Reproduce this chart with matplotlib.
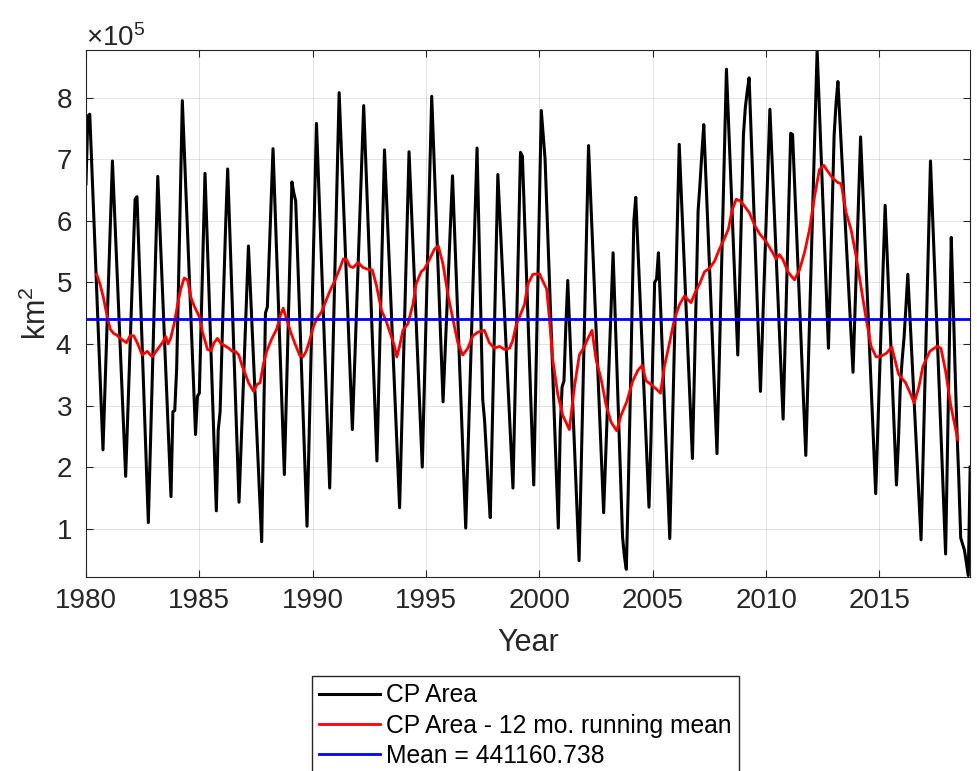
"""
CP area time series with 12-month running mean and long-term mean.
"""
import numpy as np
import matplotlib
matplotlib.use('Agg')
import matplotlib.pyplot as plt
from matplotlib.ticker import ScalarFormatter, MultipleLocator

plt.rcParams.update({
    'font.family': ['Liberation Sans', 'DejaVu Sans'],
    'mathtext.default': 'regular',
})

# ── Data ──────────────────────────────────────────────────────────────────────
# monthly CP area, Jan 1980 .. Jan 2019, in units of 1e5 km^2
cp_1980s = [
    6.60, 7.70, 7.73, 6.95, 6.17, 5.39, 4.62, 3.84, 3.06, 2.28, 3.22, 4.15,
    5.09, 6.03, 6.97, 6.24, 5.51, 4.78, 4.05, 3.31, 2.58, 1.85, 2.75, 3.65,
    4.55, 5.45, 6.35, 6.39, 5.51, 4.63, 3.74, 2.86, 1.98, 1.10, 2.22, 3.35,
    4.47, 5.60, 6.72, 5.98, 5.24, 4.49, 3.75, 3.01, 2.26, 1.52, 2.90, 2.92,
    3.60, 5.00, 6.50, 7.95, 7.18, 6.40, 5.63, 4.85, 4.08, 3.31, 2.53, 3.15,
    3.20, 4.40, 5.60, 6.77, 5.86, 4.94, 4.03, 3.12, 2.20, 1.29, 2.60, 2.90,
    4.00, 5.00, 6.00, 6.84, 5.94, 5.04, 4.14, 3.23, 2.33, 1.43, 2.26, 3.10,
    3.93, 4.76, 5.59, 4.90, 4.22, 3.53, 2.85, 2.16, 1.48, 0.79, 2.70, 4.50,
    4.60, 5.45, 6.30, 7.17, 6.29, 5.41, 4.52, 3.64, 2.76, 1.88, 3.07, 4.25,
    5.44, 6.63, 6.45, 6.32, 5.44, 4.56, 3.68, 2.80, 1.92, 1.04, 2.35, 3.66,
]
cp_1990s = [
    4.97, 6.27, 7.58, 6.73, 5.89, 5.04, 4.20, 3.35, 2.51, 1.66, 2.94, 4.23,
    5.51, 6.80, 8.08, 7.30, 6.52, 5.74, 4.95, 4.17, 3.39, 2.61, 3.49, 4.36,
    5.24, 6.12, 7.00, 7.87, 7.05, 6.22, 5.40, 4.57, 3.75, 2.93, 2.10, 3.36,
    4.63, 5.89, 7.15, 6.42, 5.70, 4.97, 4.25, 3.52, 2.79, 2.07, 1.34, 2.50,
    3.65, 4.81, 5.96, 7.12, 6.39, 5.66, 4.93, 4.20, 3.46, 2.73, 2.00, 3.20,
    4.41, 5.61, 6.82, 8.02, 7.19, 6.37, 5.54, 4.71, 3.89, 3.06, 3.79, 4.53,
    5.26, 6.00, 6.73, 5.91, 5.10, 4.28, 3.46, 2.64, 1.83, 1.01, 2.04, 3.07,
    4.10, 5.12, 6.15, 7.18, 5.80, 4.40, 3.10, 2.75, 2.20, 1.65, 1.18, 2.57,
    3.96, 5.36, 6.75, 6.11, 5.48, 4.84, 4.20, 3.57, 2.93, 2.29, 1.66, 3.02,
    4.39, 5.75, 7.11, 7.05, 6.16, 5.27, 4.38, 3.49, 2.60, 1.71, 3.23, 4.75,
]
cp_2000s = [
    6.27, 7.79, 7.40, 7.00, 6.14, 5.29, 4.43, 3.58, 2.72, 1.87, 1.01, 2.60,
    3.30, 3.40, 4.30, 5.03, 4.27, 3.51, 2.76, 2.00, 1.24, 0.48, 1.83, 3.18,
    4.52, 5.87, 7.22, 6.48, 5.73, 4.99, 4.24, 3.50, 2.75, 2.01, 1.26, 2.10,
    2.95, 3.79, 4.64, 5.48, 4.56, 3.64, 2.71, 1.79, 0.87, 0.55, 0.34, 1.60,
    3.00, 4.50, 6.00, 6.38, 5.66, 4.94, 4.22, 3.50, 2.79, 2.07, 1.35, 2.40,
    3.80, 5.00, 5.05, 5.48, 4.71, 3.93, 3.16, 2.39, 1.61, 0.84, 2.12, 3.40,
    4.68, 5.96, 7.24, 6.51, 5.78, 5.05, 4.32, 3.60, 2.87, 2.14, 3.50, 4.85,
    6.16, 6.60, 7.10, 7.56, 6.80, 6.03, 5.27, 4.51, 3.74, 2.98, 2.22, 3.47,
    4.72, 5.96, 7.21, 8.46, 7.69, 6.91, 6.14, 5.37, 4.59, 3.82, 5.00, 6.20,
    7.40, 7.84, 8.10, 8.32, 7.47, 6.62, 5.78, 4.93, 4.08, 3.23, 4.15, 5.06,
]
cp_2010s = [
    5.98, 6.90, 7.81, 7.09, 6.37, 5.65, 4.93, 4.22, 3.50, 2.78, 3.94, 5.10,
    6.26, 7.42, 7.40, 6.66, 5.91, 5.17, 4.42, 3.68, 2.93, 2.19, 3.29, 4.38,
    5.48, 6.58, 7.67, 8.77, 7.96, 7.16, 6.35, 5.54, 4.74, 3.93, 5.08, 6.24,
    7.39, 7.90, 8.26, 7.67, 7.08, 6.49, 5.90, 5.31, 4.72, 4.13, 3.54, 4.50,
    5.45, 6.41, 7.36, 6.64, 5.91, 5.19, 4.47, 3.74, 3.02, 2.29, 1.57, 2.51,
    3.44, 4.38, 5.32, 6.25, 5.49, 4.74, 3.98, 3.22, 2.47, 1.71, 2.40, 3.30,
    3.74, 4.10, 4.60, 5.13, 4.51, 3.90, 3.28, 2.67, 2.05, 1.44, 0.82, 2.05,
    3.28, 4.51, 5.74, 6.97, 6.17, 5.38, 4.58, 3.78, 2.98, 2.19, 1.39, 0.59,
    2.30, 4.02, 5.73, 4.70, 3.60, 2.60, 1.80, 0.85, 0.75, 0.65, 0.45, 0.24,
    2.00,
]

# 12 mo. running mean (1e5 km^2)
rm_years = [
    1980.47, 1980.62, 1980.77, 1980.92, 1981.07, 1981.22, 1981.37, 1981.51,
    1981.78, 1981.96, 1982.11, 1982.26, 1982.48, 1982.70, 1982.92, 1983.15,
    1983.37, 1983.52, 1983.62, 1983.74, 1983.89, 1984.04, 1984.18, 1984.33,
    1984.48, 1984.63, 1984.78, 1985.00, 1985.14, 1985.36, 1985.51, 1985.65,
    1985.80, 1985.94, 1986.16, 1986.30, 1986.45, 1986.59, 1986.74, 1986.88,
    1987.03, 1987.17, 1987.39, 1987.54, 1987.68, 1987.83, 1987.97, 1988.19,
    1988.41, 1988.58, 1988.70, 1988.84, 1989.06, 1989.20, 1989.42, 1989.57,
    1989.71, 1989.86, 1990.03, 1990.18, 1990.39, 1990.61, 1990.76, 1990.98,
    1991.20, 1991.35, 1991.49, 1991.64, 1991.78, 1992.00, 1992.22, 1992.44,
    1992.63, 1992.81, 1993.03, 1993.25, 1993.46, 1993.61, 1993.71, 1993.83,
    1993.98, 1994.20, 1994.42, 1994.56, 1994.78, 1994.93, 1995.15, 1995.37,
    1995.54, 1995.74, 1995.96, 1996.18, 1996.40, 1996.62, 1996.84, 1997.06,
    1997.28, 1997.57, 1997.79, 1998.01, 1998.24, 1998.46, 1998.68, 1998.82,
    1998.97, 1999.19, 1999.34, 1999.49, 1999.71, 2000.00, 2000.15, 2000.32,
    2000.44, 2000.59, 2000.81, 2001.03, 2001.32, 2001.54, 2001.76, 2001.99,
    2002.13, 2002.32, 2002.50, 2002.72, 2002.94, 2003.16, 2003.41, 2003.60,
    2003.85, 2004.12, 2004.34, 2004.53, 2004.71, 2004.93, 2005.15, 2005.34,
    2005.51, 2005.74, 2005.96, 2006.18, 2006.40, 2006.54, 2006.69, 2006.84,
    2007.06, 2007.28, 2007.50, 2007.72, 2007.94, 2008.16, 2008.34, 2008.49,
    2008.68, 2008.87, 2009.04, 2009.26, 2009.49, 2009.71, 2010.00, 2010.29,
    2010.44, 2010.59, 2010.74, 2010.96, 2011.25, 2011.47, 2011.69, 2011.91,
    2012.13, 2012.35, 2012.54, 2012.72, 2012.94, 2013.16, 2013.31, 2013.53,
    2013.75, 2013.97, 2014.19, 2014.41, 2014.63, 2014.85, 2015.07, 2015.31,
    2015.54, 2015.84, 2016.15, 2016.38, 2016.53, 2016.73, 2016.91, 2017.22,
    2017.53, 2017.71, 2017.91, 2018.14, 2018.45,
]
rm_vals = [
    5.13, 4.97, 4.75, 4.47, 4.24, 4.17, 4.14, 4.09,
    4.02, 4.14, 4.13, 4.02, 3.82, 3.88, 3.79, 3.91,
    4.02, 4.12, 4.00, 4.10, 4.33, 4.64, 4.89, 5.07,
    5.04, 4.75, 4.61, 4.44, 4.19, 3.91, 3.89, 4.02,
    4.09, 4.01, 3.96, 3.93, 3.88, 3.88, 3.82, 3.65,
    3.51, 3.37, 3.23, 3.34, 3.37, 3.68, 3.88, 4.08,
    4.24, 4.47, 4.58, 4.41, 4.16, 4.02, 3.82, 3.79,
    3.88, 4.05, 4.28, 4.41, 4.52, 4.72, 4.86, 5.03,
    5.23, 5.38, 5.37, 5.26, 5.24, 5.32, 5.24, 5.21,
    5.20, 4.95, 4.55, 4.36, 4.13, 3.96, 3.79, 3.96,
    4.22, 4.33, 4.64, 4.97, 5.17, 5.22, 5.37, 5.54,
    5.59, 5.31, 4.81, 4.41, 4.02, 3.82, 3.93, 4.13,
    4.19, 4.22, 4.02, 3.93, 3.96, 3.91, 3.93, 4.05,
    4.30, 4.50, 4.64, 4.97, 5.13, 5.14, 5.02, 4.89,
    4.41, 3.74, 3.18, 2.84, 2.61, 3.29, 3.82, 3.96,
    4.08, 4.22, 3.74, 3.43, 3.01, 2.73, 2.59, 2.84,
    3.06, 3.40, 3.57, 3.65, 3.40, 3.34, 3.27, 3.20,
    3.63, 4.02, 4.41, 4.64, 4.78, 4.72, 4.67, 4.81,
    4.97, 5.17, 5.23, 5.34, 5.54, 5.71, 5.87, 6.16,
    6.35, 6.32, 6.24, 6.13, 5.93, 5.79, 5.66, 5.48,
    5.38, 5.45, 5.37, 5.17, 5.04, 5.20, 5.48, 5.85,
    6.38, 6.83, 6.90, 6.80, 6.69, 6.62, 6.60, 6.13,
    5.85, 5.42, 4.92, 4.41, 3.96, 3.79, 3.80, 3.85,
    3.95, 3.51, 3.37, 3.18, 3.04, 3.29, 3.63, 3.88,
    3.96, 3.93, 3.57, 3.01, 2.45,
]

mean_area = 441160.738

cp_area = np.array(cp_1980s + cp_1990s + cp_2000s + cp_2010s) * 1e5
years = 1980 + np.arange(len(cp_area)) / 12
rm_area = np.array(rm_vals) * 1e5

# ── Figure ────────────────────────────────────────────────────────────────────
fig = plt.figure(figsize=(9.77, 7.71), dpi=100)
fig.patch.set_facecolor('white')
ax = fig.add_axes([0.088, 0.252, 0.905, 0.683])

ax.plot(years, cp_area, color='black', lw=2.2, label='CP Area')
ax.plot(rm_years, rm_area, color='#ff0000', lw=2.0,
        label='CP Area - 12 mo. running mean')
ax.plot([years[0], years[-1]], [mean_area, mean_area], color='#0000ff', lw=2.0,
        label=f'Mean = {mean_area:.3f}')

# ── Axes ──────────────────────────────────────────────────────────────────────
ax.set_xlim(1980, 2019)
ax.set_ylim(cp_area.min() * 0.92, cp_area.max())
ax.set_xticks(np.arange(1980, 2016, 5))
ax.yaxis.set_major_locator(MultipleLocator(1e5))
fmt = ScalarFormatter(useMathText=True)
fmt.set_powerlimits((0, 0))
ax.yaxis.set_major_formatter(fmt)
ax.yaxis.get_offset_text().set_fontsize(20)
ax.yaxis.get_offset_text().set_color('#262626')

ax.grid(True, color='#262626', alpha=0.15, lw=0.6)
ax.set_axisbelow(True)
ax.tick_params(axis='both', direction='in', top=True, right=True,
               length=5, width=0.8, labelsize=20, colors='#262626')
ax.tick_params(axis='x', pad=8)
ax.tick_params(axis='y', pad=10)
for spine in ax.spines.values():
    spine.set_color('#262626')
    spine.set_linewidth(0.8)

ax.set_xlabel('Year', fontsize=22, color='#262626', labelpad=10)
ax.set_ylabel('km$^2$', fontsize=22, color='#262626', labelpad=2)

# ── Legend ────────────────────────────────────────────────────────────────────
fig.legend(loc='upper left', bbox_to_anchor=(312 / 977, 1 - 676 / 771),
           fontsize=17.7, frameon=True, fancybox=False, framealpha=1,
           edgecolor='#262626', handlelength=2.45, handletextpad=0.25,
           labelspacing=0.25, borderpad=0.3, borderaxespad=0)

fig.savefig('out.png', dpi=100, facecolor='white')
